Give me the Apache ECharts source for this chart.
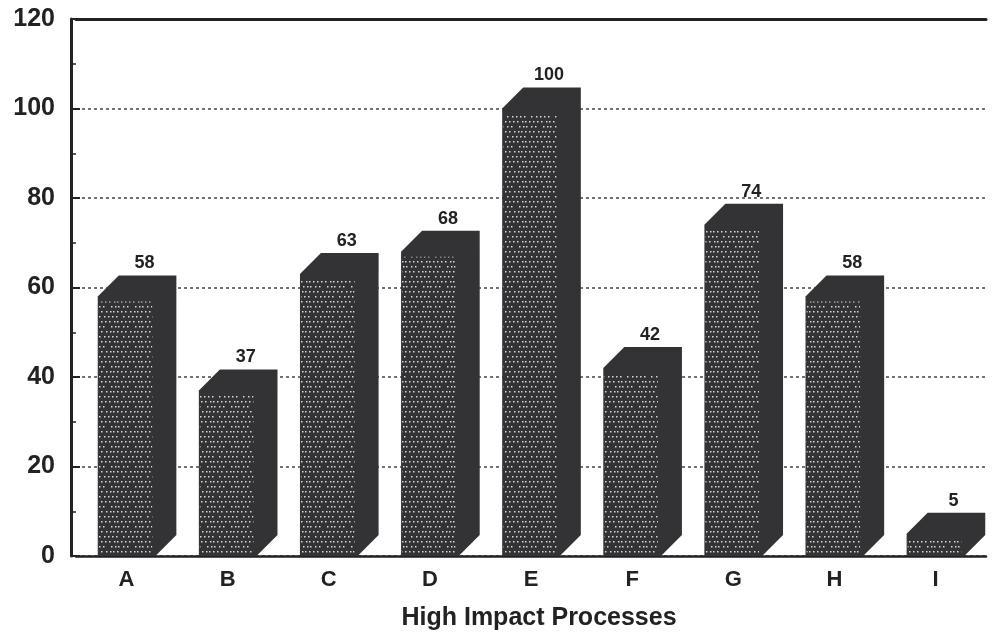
<!DOCTYPE html>
<html>
<head>
<meta charset="utf-8">
<title>High Impact Processes</title>
<script src="https://cdn.jsdelivr.net/npm/echarts@6/dist/echarts.min.js"></script>
<style>
  html, body { margin: 0; padding: 0; background: #fff; }
  #chart { width: 997px; height: 640px; }
</style>
</head>
<body>
<div id="chart"></div>
<script>
var categories = ['A', 'B', 'C', 'D', 'E', 'F', 'G', 'H', 'I'];
var values = [58, 37, 63, 68, 100, 42, 74, 58, 5];
var yTicks = [0, 20, 40, 60, 80, 100, 120];

var dark = '#333336';
var font = '"Liberation Sans", Arial, sans-serif';

// dotted texture for the bar fronts
function makeDots() {
  var c = document.createElement('canvas');
  c.width = 24;
  c.height = 20;
  var ctx = c.getContext('2d');
  ctx.fillStyle = dark;
  ctx.fillRect(0, 0, 24, 20);
  ctx.fillStyle = '#d8d8d8';
  var dots = [
    [1, 1], [5, 1], [9, 1], [13, 1], [18, 1], [21, 1],
    [3, 6], [7, 6], [15, 6], [19, 6], [22, 6],
    [1, 11], [5, 11], [10, 11], [14, 11], [17, 11], [21, 11],
    [3, 16], [8, 16], [12, 16], [16, 16], [20, 16]
  ];
  dots.forEach(function (d) { ctx.fillRect(d[0], d[1], 1.5, 1.5); });
  return c;
}
var dotPattern = { image: makeDots(), repeat: 'repeat' };

var myChart = echarts.init(document.getElementById('chart'));

var option = {
  backgroundColor: '#fff',
  animation: false,
  grid: { left: 76, right: 11, top: 19, bottom: 84 },
  xAxis: [{
    type: 'category',
    data: categories,
    axisLine: { lineStyle: { color: '#222', width: 2.5 } },
    axisTick: { show: false },
    axisLabel: { color: '#222', fontSize: 22, fontWeight: 'bold', fontFamily: font, margin: 13 },
    name: 'High Impact Processes',
    nameLocation: 'middle',
    nameGap: 50,
    nameTextStyle: { color: '#222', fontSize: 25, fontWeight: 'bold', fontFamily: font, padding: [0, 0, 0, 16] }
  }, {
    type: 'category',
    data: categories,
    position: 'top',
    axisLine: { lineStyle: { color: '#222', width: 3 } },
    axisTick: { show: false },
    axisLabel: { show: false }
  }],
  yAxis: {
    type: 'value',
    min: yTicks[0],
    max: yTicks[yTicks.length - 1],
    interval: 20,
    offset: 5,
    axisLine: { show: true, lineStyle: { color: '#222', width: 3 } },
    axisTick: { show: true, inside: true, length: 9, lineStyle: { color: '#222', width: 2 } },
    minorTick: { show: true, splitNumber: 2, length: 5, lineStyle: { color: '#222', width: 1.5 } },
    axisLabel: { color: '#222', fontSize: 25, fontWeight: 'bold', fontFamily: font, margin: 16 },
    splitLine: { show: true, lineStyle: { color: '#444', width: 1.5, type: [3, 3] } }
  },
  series: [{
    type: 'custom',
    xAxisIndex: 0,
    data: values.map(function (v, i) { return [i, v]; }),
    renderItem: function (params, api) {
      var top = api.coord([api.value(0), api.value(1)]);
      var base = api.coord([api.value(0), 0]);
      var band = api.size([1, 0])[0];
      var w = band * 0.57;
      var d = 21;
      var xl = top[0] - w / 2, xr = top[0] + w / 2;
      var yt = top[1], yb = base[1];
      return {
        type: 'group',
        children: [{
          type: 'polygon',
          shape: { points: [[xl, yb], [xl, yt], [xl + d, yt - d], [xr + d, yt - d], [xr + d, yb - d], [xr, yb]] },
          style: { fill: dark }
        }, {
          type: 'rect',
          shape: { x: xl + 1, y: yt + 5, width: w - 4, height: Math.max(yb - yt - 8, 0) },
          style: { fill: dotPattern }
        }, {
          type: 'text',
          x: top[0] + 18,
          y: yt - d - 3,
          style: {
            text: String(api.value(1)),
            fill: '#222',
            font: 'bold 18px ' + font,
            align: 'center',
            verticalAlign: 'bottom'
          }
        }]
      };
    }
  }]
};
myChart.setOption(option);
</script>
</body>
</html>
